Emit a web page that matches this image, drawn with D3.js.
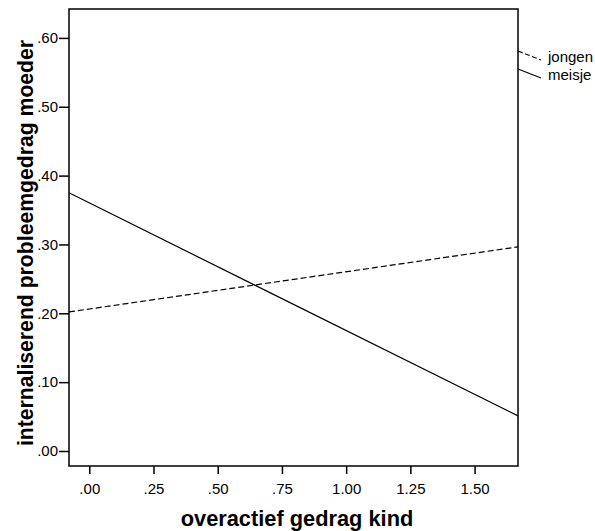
<!DOCTYPE html>
<html><head><meta charset="utf-8">
<script src="https://cdn.jsdelivr.net/npm/d3@7"></script>
<style>body{margin:0;background:#fff}svg{display:block}text{font-family:Arial,"Liberation Sans",sans-serif}</style>
</head><body><svg id="c" width="595" height="531"></svg>
<script>
const groups = ["jongen", "meisje"];
const xEnds = [-0.079, 1.669];
const jongenValues = [0.202, 0.2965];
const meisjeValues = [0.375, 0.051];
const xTicks = [0, 0.25, 0.5, 0.75, 1.0, 1.25, 1.5];
const yTicks = [0, 0.1, 0.2, 0.3, 0.4, 0.5, 0.6];
const xTitle = "overactief gedrag kind";
const yTitle = "internaliserend probleemgedrag moeder";

const svg = d3.select("#c");
const L = 69, R = 518, T = 9, B = 466;
const x = d3.scaleLinear().domain([-0.079, 1.669]).range([L, R]);
const y = d3.scaleLinear().domain([-0.0218, 0.642]).range([B, T]);
const fmt = v => { const s = d3.format(".2f")(v); return s.startsWith("0") ? s.slice(1) : s; };

const series = [
  {name: groups[0], vals: jongenValues, dash: "6,3"},
  {name: groups[1], vals: meisjeValues, dash: null}
];
const line = d3.line().x(d => x(d[0])).y(d => y(d[1]));
series.forEach(s => {
  svg.append("path").attr("d", line(xEnds.map((xv, i) => [xv, s.vals[i]])))
    .attr("fill", "none").attr("stroke", "#000").attr("stroke-width", 1.2)
    .attr("stroke-dasharray", s.dash);
});

// axes
const ya = svg.append("g").attr("transform", `translate(${L},0)`)
  .call(d3.axisLeft(y).tickValues(yTicks).tickFormat(fmt).tickSize(10).tickPadding(1));
const xa = svg.append("g").attr("transform", `translate(0,${B})`)
  .call(d3.axisBottom(x).tickValues(xTicks).tickFormat(fmt).tickSize(8).tickPadding(9));
[ya, xa].forEach(g => {
  g.select(".domain").remove();
  g.selectAll(".tick line").attr("stroke", "#000").attr("stroke-width", 1.5);
  g.selectAll(".tick text").attr("font-size", 15).attr("fill", "#000")
    .attr("font-family", "Arial, 'Liberation Sans', sans-serif");
});

svg.append("rect").attr("x", L).attr("y", T).attr("width", R - L).attr("height", B - T)
  .attr("fill", "none").attr("stroke", "#000").attr("stroke-width", 1.5);

// legend
const leg = svg.append("g");
series.forEach((s, i) => {
  const y0 = 51 + i * 18;
  leg.append("line").attr("x1", R).attr("x2", 541).attr("y1", y0).attr("y2", y0 + 9)
    .attr("stroke", "#000").attr("stroke-width", 1.2).attr("stroke-dasharray", s.dash ? "5,2.5" : null);
  leg.append("text").attr("x", 548).attr("y", y0 + 11).attr("font-size", 15).text(s.name);
});

svg.append("text").attr("x", 297).attr("y", 526).attr("text-anchor", "middle")
  .attr("font-size", 21.8).attr("font-weight", "bold").text(xTitle);
svg.append("text").attr("transform", "translate(33,243) rotate(-90)").attr("text-anchor", "middle")
  .attr("font-size", 21.2).attr("font-weight", "bold").text(yTitle);
</script></body></html>
